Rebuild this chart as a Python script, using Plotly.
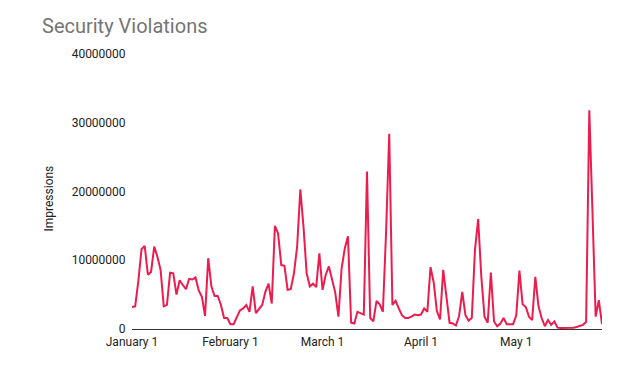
import plotly.graph_objects as go
import pandas as pd

start_date = "2020-01-01"
end_date = "2020-05-28"

# Daily impressions, in millions
impressions_millions = [
    3.2, 3.3, 7.0, 11.6, 12.1, 7.9, 8.3, 12.0, 10.5, 8.6,
    3.3, 3.5, 8.2, 8.1, 5.0, 7.1, 6.4, 5.8, 7.3, 7.2,
    7.5, 5.6, 4.7, 1.9, 10.3, 6.2, 4.8, 4.8, 3.5, 1.6,
    1.6, 0.7, 0.7, 1.8, 2.7, 3.0, 3.5, 2.5, 6.2, 2.3,
    2.9, 3.5, 5.4, 6.6, 3.7, 15.0, 13.9, 9.3, 9.2, 5.7,
    5.8, 8.1, 12.0, 20.3, 14.9, 8.1, 6.2, 6.6, 6.1, 11.0,
    5.7, 7.9, 9.1, 7.1, 5.3, 1.8, 8.8, 11.7, 13.5, 0.9,
    0.8, 2.5, 2.3, 2.1, 22.9, 1.6, 1.1, 4.1, 3.6, 2.5,
    14.0, 28.4, 3.5, 4.1, 3.0, 2.0, 1.6, 1.6, 1.8, 2.1,
    2.0, 2.1, 3.0, 2.5, 9.0, 6.8, 2.6, 1.4, 8.6, 4.7,
    0.9, 0.8, 0.5, 1.9, 5.4, 2.0, 1.2, 1.6, 11.5, 16.0,
    7.6, 1.8, 0.9, 8.2, 1.1, 0.4, 0.8, 1.6, 0.7, 0.7,
    0.7, 2.0, 8.5, 3.6, 3.2, 1.8, 1.3, 7.6, 3.3, 1.6,
    0.4, 1.3, 0.6, 1.1, 0.2, 0.15, 0.15, 0.2, 0.1, 0.2,
    0.3, 0.4, 0.6, 1.0, 31.8, 17.0, 1.8, 4.2, 0.7,
]

dates = pd.date_range(start_date, periods=len(impressions_millions), freq="D")
values = [v * 1_000_000 for v in impressions_millions]

x_tick_vals = ["2020-01-01", "2020-02-01", "2020-03-01", "2020-04-01", "2020-05-01"]
x_tick_text = ["January 1", "February 1", "March 1", "April 1", "May 1"]
y_tick_vals = [0, 10000000, 20000000, 30000000, 40000000]
y_tick_text = ["0", "10000000", "20000000", "30000000", "40000000"]

fig = go.Figure()
fig.add_trace(go.Scatter(
    x=dates, y=values, mode="lines",
    line=dict(color="#EC1C4F", width=2),
    showlegend=False,
))

fig.update_layout(
    width=621, height=367,
    margin=dict(l=132, r=19, t=54, b=38),
    paper_bgcolor="white", plot_bgcolor="white",
    font=dict(family="Roboto", size=12, color="#222222"),
    title=dict(
        text="Security Violations",
        font=dict(family="Roboto", size=20, color="#757575"),
        x=42 / 621, xanchor="left", xref="container",
        y=1 - 26 / 367, yanchor="middle", yref="container",
    ),
    xaxis=dict(
        range=[start_date, end_date],
        tickmode="array", tickvals=x_tick_vals, ticktext=x_tick_text,
        showgrid=False, zeroline=False,
        showline=True, linecolor="#333333", linewidth=1,
        ticks="outside", ticklen=2, tickcolor="rgba(0,0,0,0)",
        tickfont=dict(family="Roboto", size=12, color="#222222"),
    ),
    yaxis=dict(
        range=[0, 40000000],
        tickmode="array", tickvals=y_tick_vals, ticktext=y_tick_text,
        showgrid=False, zeroline=False, showline=False,
        ticks="outside", ticklen=3, tickcolor="rgba(0,0,0,0)",
        tickfont=dict(family="Roboto", size=12, color="#222222"),
    ),
    annotations=[dict(
        text="Impressions", textangle=-90,
        xref="paper", yref="paper", x=0, y=0.5,
        xanchor="center", yanchor="middle",
        xshift=-84, yshift=-7, showarrow=False,
        font=dict(family="Roboto", size=12, color="#222222"),
    )],
)

fig.write_html(
    "out.html",
    config={"displayModeBar": False},
    post_script="document.body.style.margin='0px';document.body.style.overflow='hidden';",
)
